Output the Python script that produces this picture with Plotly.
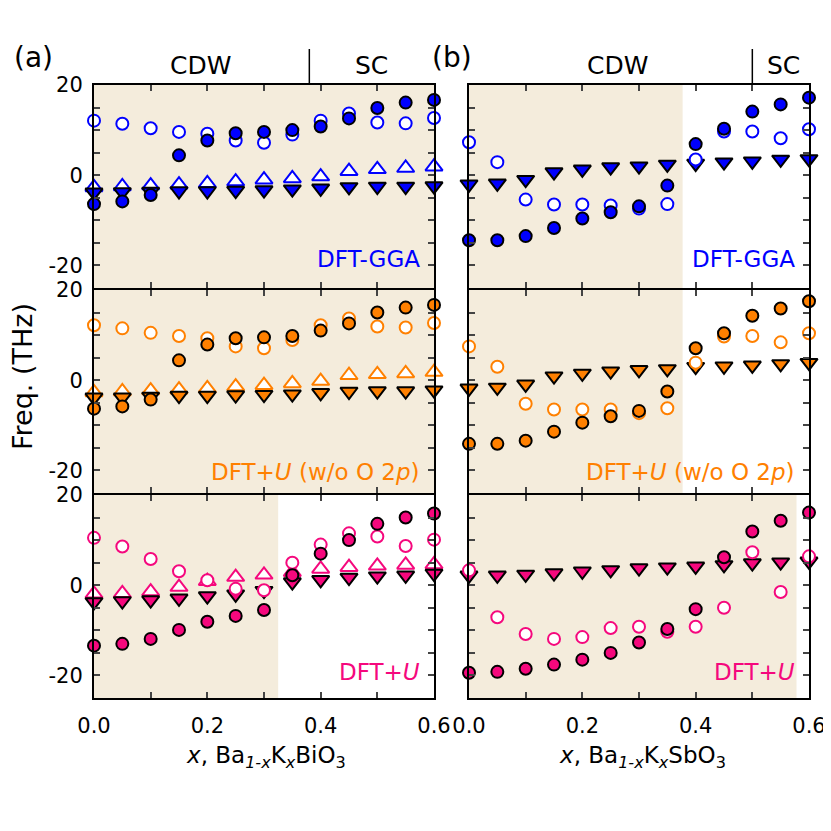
import plotly.graph_objects as go
from plotly.subplots import make_subplots

# Doping levels (same for every panel)
x_vals = [0.0, 0.05, 0.1, 0.15, 0.2, 0.25, 0.3, 0.35, 0.4, 0.45, 0.5, 0.55, 0.6]

# --- (a) Ba1-xKxBiO3 ---------------------------------------------------
bio_gga_open = [12.1, 11.4, 10.4, 9.6, 9.2, 7.7, 7.2, 9.0, 12.1, 13.7, 11.7, 11.5, 12.7]
bio_gga_filled = [-6.4, -5.8, -4.4, 4.4, 7.7, 9.3, 9.6, 10.0, 10.8, 12.6, 14.9, 16.1, 16.7]
bio_gga_up = [-2.7, -2.5, -2.3, -2.1, -1.8, -1.4, -1.0, -0.7, -0.3, 0.9, 1.3, 1.6, 1.9]
bio_gga_down = [-3.8, -3.7, -3.6, -3.5, -3.5, -3.4, -3.3, -3.1, -2.9, -2.6, -2.5, -2.5, -2.4]

bio_nop_open = [12.2, 11.5, 10.5, 9.8, 9.3, 7.5, 7.1, 8.9, 12.2, 13.7, 11.9, 11.7, 12.7]
bio_nop_filled = [-6.3, -5.8, -4.3, 4.4, 7.9, 9.3, 9.5, 9.8, 11.0, 12.6, 15.0, 16.1, 16.7]
bio_nop_up = [-2.7, -2.5, -2.3, -2.1, -1.8, -1.4, -1.1, -0.7, -0.2, 1.1, 1.3, 1.5, 1.8]
bio_nop_down = [-3.8, -3.8, -3.6, -3.4, -3.4, -3.3, -3.2, -3.1, -2.8, -2.5, -2.4, -2.4, -2.2]

bio_u_open = [10.5, 8.6, 5.8, 3.1, 1.1, -0.8, -1.1, 5.0, 9.0, 11.5, 10.8, 8.7, 10.1]
bio_u_filled = [-13.4, -13.0, -11.9, -9.9, -8.1, -6.8, -5.5, 2.2, 7.0, 10.0, 13.6, 15.0, 15.9]
bio_u_up = [-1.9, -1.8, -1.4, -0.4, 0.9, 1.8, 2.3, 2.9, 3.6, 4.0, 4.3, 4.5, 4.6]
bio_u_down = [-3.7, -3.5, -3.3, -2.9, -2.4, -2.0, -1.2, 0.7, 1.2, 1.7, 2.0, 2.2, 2.6]

# --- (b) Ba1-xKxSbO3 ---------------------------------------------------
sbo_gga_open = [7.3, 2.9, -5.4, -6.5, -6.5, -6.7, -7.4, -6.4, 3.5, 9.7, 9.7, 8.2, 10.2]
sbo_gga_filled = [-14.4, -14.4, -13.5, -11.7, -9.6, -8.2, -6.9, -2.3, 6.9, 10.3, 14.1, 15.7, 17.2]
sbo_gga_down = [-2.0, -1.8, -1.0, 0.7, 1.3, 1.8, 2.0, 2.4, 2.6, 2.9, 3.1, 3.5, 3.6]

sbo_nop_open = [7.5, 3.0, -5.2, -6.5, -6.5, -6.5, -7.3, -6.2, 3.9, 9.7, 9.8, 8.4, 10.4]
sbo_nop_filled = [-14.1, -14.1, -13.4, -11.4, -9.4, -8.0, -6.8, -2.5, 7.1, 10.4, 14.3, 15.9, 17.5]
sbo_nop_down = [-1.8, -1.6, -0.9, 0.9, 1.5, 2.0, 2.3, 2.5, 3.0, 3.1, 3.3, 3.6, 3.9]

sbo_u_open = [3.3, -7.1, -10.8, -11.9, -11.5, -9.5, -9.2, -10.3, -9.2, -5.0, 7.3, -1.5, 6.4]
sbo_u_filled = [-19.4, -19.2, -18.5, -17.6, -16.5, -15.0, -12.7, -9.7, -5.3, 6.2, 11.9, 14.3, 16.1]
sbo_u_down = [2.2, 2.2, 2.4, 2.7, 3.1, 3.4, 3.8, 4.0, 4.2, 4.5, 4.9, 5.1, 5.3]

# CDW shading end per panel (row, col) and CDW/SC boundary per column
cdw_end = {(1, 1): 0.6, (2, 1): 0.6, (3, 1): 0.325,
           (1, 2): 0.377, (2, 2): 0.377, (3, 2): 0.578}
phase_boundary = [0.38, 0.5]

method_labels = ["DFT-GGA", "DFT+<i>U</i> (w/o O 2<i>p</i>)", "DFT+<i>U</i>"]
method_colors = ["#0000FF", "#FF8000", "#F5087D"]
label_y = [0.145, 0.105, 0.13]

BEIGE = "#F4ECDC"
FONT = "DejaVu Sans"
LW = 2

panels = {
    (1, 1): (bio_gga_open, bio_gga_filled, bio_gga_up, bio_gga_down),
    (2, 1): (bio_nop_open, bio_nop_filled, bio_nop_up, bio_nop_down),
    (3, 1): (bio_u_open, bio_u_filled, bio_u_up, bio_u_down),
    (1, 2): (sbo_gga_open, sbo_gga_filled, None, sbo_gga_down),
    (2, 2): (sbo_nop_open, sbo_nop_filled, None, sbo_nop_down),
    (3, 2): (sbo_u_open, sbo_u_filled, None, sbo_u_down),
}

fig = make_subplots(rows=3, cols=2)

for (r, c), (op, fi, up, dn) in panels.items():
    col = method_colors[r - 1]
    if up is not None:
        fig.add_trace(go.Scatter(
            x=x_vals, y=up, mode="markers", cliponaxis=False,
            marker=dict(symbol="triangle-up", size=15, color="white",
                        line=dict(color=col, width=2))), row=r, col=c)
    fig.add_trace(go.Scatter(
        x=x_vals, y=dn, mode="markers", cliponaxis=False,
        marker=dict(symbol="triangle-down", size=15, color=col,
                    line=dict(color="black", width=2))), row=r, col=c)
    fig.add_trace(go.Scatter(
        x=x_vals, y=op, mode="markers", cliponaxis=False,
        marker=dict(symbol="circle", size=12, color="white",
                    line=dict(color=col, width=2))), row=r, col=c)
    fig.add_trace(go.Scatter(
        x=x_vals, y=fi, mode="markers", cliponaxis=False,
        marker=dict(symbol="circle", size=12, color=col,
                    line=dict(color="black", width=2))), row=r, col=c)

# the page body adds an 8 px offset, so positions are measured minus that
W = 831.0
OFF = 8


def px_x(p):
    return (p - OFF) / W


def px_y(p):
    return 1 - (p - OFF) / W


# panels are separated by the line width so neighbouring frame lines overlap
x_doms = {1: [px_x(94), px_x(434)], 2: [px_x(469), px_x(809)]}
y_doms = {1: [px_y(288), px_y(85)],
          2: [px_y(493), px_y(290)],
          3: [px_y(698), px_y(495)]}

for r in (1, 2, 3):
    for c in (1, 2):
        fig.update_xaxes(
            domain=x_doms[c], range=[0, 0.6], tickvals=[0.0, 0.2, 0.4, 0.6],
            ticktext=["0.0", "0.2", "0.4", "0.6"],
            showticklabels=(r == 3), ticks="inside", ticklen=6, tickwidth=1.5,
            minor=dict(dtick=0.1, tick0=0, ticks="inside", ticklen=6, tickwidth=1.5,
                       showgrid=False),
            showline=True, linewidth=LW, linecolor="black", mirror="ticks",
            showgrid=False, zeroline=False, ticklabelstandoff=8, automargin=False,
            tickfont=dict(family=FONT, size=21, color="black"),
            row=r, col=c)
        fig.update_yaxes(
            domain=y_doms[r], range=[-25, 20], tickvals=[-20, 0, 20],
            ticktext=["-20", "0", "20"],
            showticklabels=(c == 1), ticks="inside", ticklen=6, tickwidth=1.5,
            minor=dict(dtick=5, tick0=0, ticks="inside", ticklen=6, tickwidth=1.5,
                       showgrid=False),
            showline=True, linewidth=LW, linecolor="black", mirror="ticks",
            showgrid=False, zeroline=False, ticklabelstandoff=5, automargin=False,
            tickfont=dict(family=FONT, size=21, color="black"),
            row=r, col=c)

        # CDW shading
        idx = (r - 1) * 2 + c
        xr = "x" if idx == 1 else f"x{idx}"
        yr = "y domain" if idx == 1 else f"y{idx} domain"
        fig.add_shape(type="rect", xref=xr, yref=yr, x0=0, x1=cdw_end[(r, c)],
                      y0=0, y1=1, fillcolor=BEIGE, line_width=0, layer="below")

        # method label
        fig.add_annotation(
            text=method_labels[r - 1], xref=f"{xr} domain", yref=yr,
            x=0.965, y=label_y[r - 1], xanchor="right", yanchor="middle",
            showarrow=False,
            font=dict(family=FONT, size=23, color=method_colors[r - 1]))

# phase boundary dividers + CDW / SC headers
for c, xb in zip((1, 2), phase_boundary):
    xr = "x" if c == 1 else "x2"
    fig.add_shape(type="line", xref=xr, yref="paper", x0=xb, x1=xb,
                  y0=px_y(85), y1=px_y(49), line=dict(color="black", width=1.5))

headers = [("CDW", 200), ("SC", 371), ("CDW", 617), ("SC", 783)]
for txt, px in headers:
    fig.add_annotation(text=txt, xref="paper", yref="paper", x=px_x(px), y=px_y(66),
                       xanchor="center", yanchor="middle", showarrow=False,
                       font=dict(family=FONT, size=25, color="black"))

for txt, px in [("(a)", 33), ("(b)", 452)]:
    fig.add_annotation(text=txt, xref="paper", yref="paper", x=px_x(px), y=px_y(57),
                       xanchor="center", yanchor="middle", showarrow=False,
                       font=dict(family=FONT, size=28, color="black"))

# axis titles
fig.add_annotation(text="Freq. (THz)", xref="paper", yref="paper", x=px_x(22), y=px_y(377),
                   textangle=-90, xanchor="center", yanchor="middle", showarrow=False,
                   font=dict(family=FONT, size=27, color="black"))
for formula, px in [("BiO", 266), ("SbO", 642)]:
    fig.add_annotation(
        text=f"<i>x</i>, Ba<sub><i>1-x</i></sub>K<sub><i>x</i></sub>{formula}<sub>3</sub>",
        xref="paper", yref="paper", x=px_x(px), y=px_y(757),
        xanchor="center", yanchor="middle", showarrow=False,
        font=dict(family=FONT, size=23, color="black"))

fig.update_layout(
    width=831, height=831, showlegend=False,
    margin=dict(l=0, r=0, t=0, b=0),
    paper_bgcolor="white", plot_bgcolor="white",
)

fig.write_html("out.html")
